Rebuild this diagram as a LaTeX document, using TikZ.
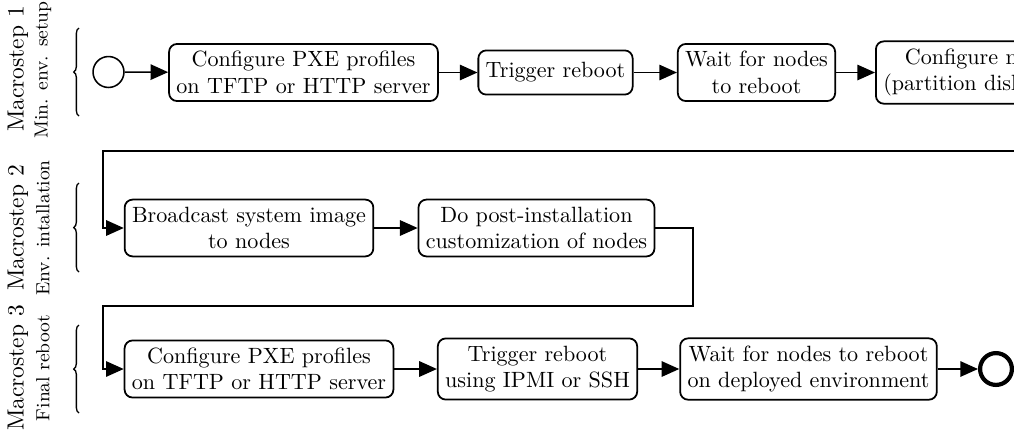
\documentclass[tikz,border=0pt]{standalone}
\usetikzlibrary{arrows.meta,decorations.pathreplacing}
\begin{document}
\begin{tikzpicture}[x=0.4525pt,y=-0.4525pt,
  box/.style={draw,line width=0.8pt,rounded corners=3.6pt,align=center,
    font=\fontsize{10}{12}\selectfont,inner sep=3.33pt,minimum height=20pt},
  flow/.style={line width=0.7pt,-{Triangle[length=8pt,width=7pt]}},
  bracestyle/.style={line width=0.6pt,decorate,decoration={brace,amplitude=2.4pt}},
  biglabel/.style={rotate=90,font=\fontsize{10.6}{12}\selectfont},
  smalllabel/.style={rotate=90,font=\fontsize{8.6}{10}\selectfont},
  startev/.style={circle,draw,line width=0.7pt,minimum size=14pt,inner sep=0pt},
  endev/.style={circle,draw,line width=1.9pt,minimum size=14.4pt,inner sep=0pt}]
\clip (0,0) rectangle (1014,430);
% labels
\node[biglabel] (m1) at (18,69) {Macrostep 1};
\node[smalllabel] (s1) at (43,70) {Min. env. setup};
\node[biglabel] (m2) at (18,228) {Macrostep 2};
\node[smalllabel] (s2) at (43,228) {Env. intallation};
\node[biglabel] (m3) at (18,368) {Macrostep 3};
\node[smalllabel] (s3) at (43,368) {Final reboot};
% braces
\coordinate (b1a) at (79,116); \coordinate (b1b) at (79,28);
\coordinate (b2a) at (79,272); \coordinate (b2b) at (79,183);
\coordinate (b3a) at (79,413); \coordinate (b3b) at (79,325);
\draw[bracestyle] (b1a) -- (b1b);
\draw[bracestyle] (b2a) -- (b2b);
\draw[bracestyle] (b3a) -- (b3b);
% row 1
\node[startev] (start) at (108.5,72) {};
\node[box] (a1) at (303.5,72.5) {Configure PXE profiles\\on TFTP or HTTP server};
\node[box] (a2) at (555.5,72.5) {Trigger reboot};
\node[box] (a3) at (756.5,72.5) {Wait for nodes\\to reboot};
\node[box,anchor=west] (a4) at (875,72.5) {Configure nodes\\(partition disks, etc)};
% row 2
\node[box] (b1) at (249,228) {Broadcast system image\\to nodes};
\node[box] (b2) at (536.5,228) {Do post-installation\\customization of nodes};
% row 3
\node[box] (c1) at (259,369) {Configure PXE profiles\\on TFTP or HTTP server};
\node[box] (c2) at (537.5,369) {Trigger reboot\\using IPMI or SSH};
\node[box] (c3) at (808.5,369) {Wait for nodes to reboot\\on deployed environment};
\node[endev] (end) at (996,369) {};
% connectors
\draw[flow] (start) -- (a1);
\draw[flow] (a1) -- (a2);
\draw[flow] (a2) -- (a3);
\draw[flow] (a3) -- (a4);
\coordinate (t1) at (103,151);
\coordinate (t2) at (693,306);
\coordinate (t3) at (103,306);
\draw[flow] (a4.east) -- ++(15,0) |- (t1) |- (b1.west);
\draw[flow] (b1) -- (b2);
\draw[flow] (b2.east) -| (t2) -- (t3) |- (c1.west);
\draw[flow] (c1) -- (c2);
\draw[flow] (c2) -- (c3);
\draw[flow] (c3) -- (end);
\end{tikzpicture}
\end{document}
